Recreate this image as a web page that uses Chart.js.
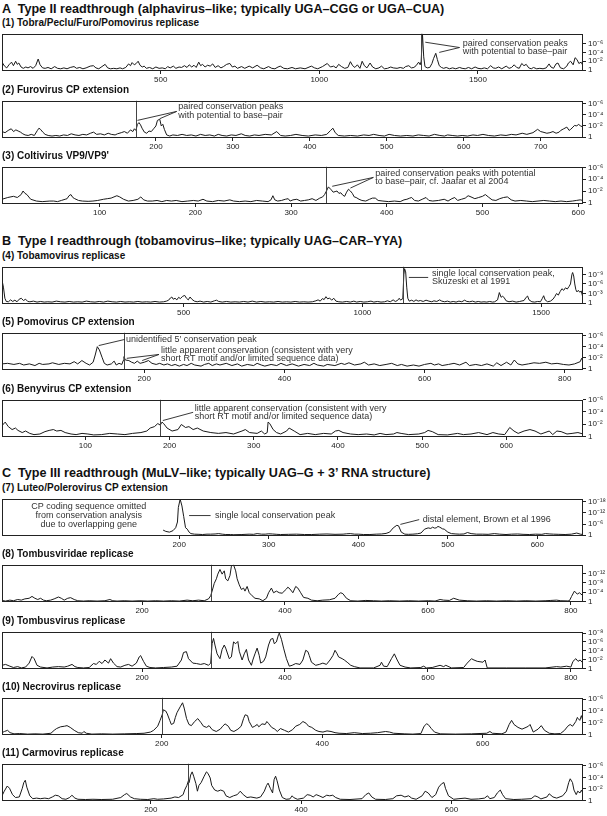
<!DOCTYPE html>
<html>
<head>
<meta charset="utf-8">
<script src="https://cdn.jsdelivr.net/npm/chart.js@4.4.0/dist/chart.umd.min.js"></script>
<style>
  body { margin: 0; background: #fff; }
  #fig { position: relative; width: 607px; height: 816px; overflow: hidden; font-family: "Liberation Sans", Arial, sans-serif; color: #111; }
  .sec { position: absolute; left: 2px; font-weight: bold; font-size: 12.6px; line-height: 16px; white-space: pre; }
  .ttl { position: absolute; left: 2px; font-weight: bold; font-size: 10px; line-height: 12px; white-space: nowrap; }
  canvas { position: absolute; left: 0; }
</style>
</head>
<body>
<div id="fig"></div>
<script>
// section headings and panel titles
const sectionTitles = [
    'A  Type II readthrough (alphavirus\u2013like; typically UGA\u2013CGG or UGA\u2013CUA)',
    'B  Type I readthrough (tobamovirus\u2013like; typically UAG\u2013CAR\u2013YYA)',
    'C  Type III readthrough (MuLV\u2013like; typically UAG\u2013G + 3\u2019 RNA structure)'
];
const panelTitles = [
    '(1) Tobra/Peclu/Furo/Pomovirus replicase',
    '(2) Furovirus CP extension',
    '(3) Coltivirus VP9/VP9\'',
    '(4) Tobamovirus replicase',
    '(5) Pomovirus CP extension',
    '(6) Benyvirus CP extension',
    '(7) Luteo/Polerovirus CP extension',
    '(8) Tombusviridae replicase',
    '(9) Tombusvirus replicase',
    '(10) Necrovirus replicase',
    '(11) Carmovirus replicase'
];

// codon position of the readthrough stop (null = none drawn)
const readthrough = [1321, 174, 336, 1113, 171, 189, null, 296, 296, 201, 250];

// x tick labels (codon position) and y ticks (-log10 p)
const posTicks = [
    [500, 1000, 1500],
    [200, 300, 400, 500, 600, 700],
    [100, 200, 300, 400, 500, 600],
    [500, 1000, 1500],
    [200, 400, 600, 800],
    [100, 200, 300, 400, 500, 600],
    [200, 300, 400, 500, 600],
    [200, 400, 600, 800],
    [200, 400, 600, 800],
    [200, 400, 600],
    [200, 400, 600]
];
const expTicks = [
    [0, 2, 4, 6], [0, 2, 4, 6], [0, 2, 4, 6], [0, 3, 6, 9], [0, 2, 4, 6], [0, 2, 4, 6],
    [0, 6, 12, 18], [0, 4, 8, 12], [0, 2, 4, 6, 8], [0, 2, 4, 6], [0, 2, 4, 6]
];

// conservation score: [codon position, -log10 p]
const score1 = [[0,1.8],[8,0.9],[15,0.5],[22,1.2],[30,1.8],[36,1.0],[43,2.0],[48,1.3],[53,1.6],[60,0.7],[67,0.4],[75,0.7],[82,0.5],[90,0.8],[98,0.4],[106,1.0],[114,2.5],[120,1.2],[128,0.5],[136,0.4],[145,0.6],[155,0.3],[166,0.8],[175,0.4],[185,0.3],[195,0.5],[205,0.3],[215,0.6],[227,0.8],[235,0.4],[245,0.6],[255,0.3],[265,0.5],[278,0.9],[288,1.0],[296,0.5],[305,0.3],[315,0.8],[325,1.3],[333,0.5],[342,0.3],[352,0.4],[362,0.3],[372,0.5],[380,0.3],[390,0.6],[399,1.4],[405,1.0],[410,1.7],[417,1.2],[423,1.5],[429,2.0],[435,1.1],[442,0.7],[448,0.9],[455,0.4],[465,0.6],[475,0.3],[485,0.7],[495,0.4],[505,0.5],[515,0.3],[522,0.8],[530,0.5],[540,0.9],[548,0.4],[558,0.7],[566,0.6],[575,1.0],[583,0.6],[590,1.2],[598,0.7],[605,1.1],[612,0.6],[620,1.8],[626,1.0],[632,1.3],[640,0.7],[648,1.1],[656,0.9],[664,1.4],[672,0.6],[681,1.0],[690,0.5],[698,0.8],[708,1.3],[718,1.5],[726,0.7],[734,0.9],[742,0.4],[755,0.8],[765,0.4],[779,0.9],[790,0.5],[804,1.1],[815,0.5],[825,0.3],[840,0.8],[850,0.4],[860,0.3],[870,0.7],[877,0.9],[888,0.4],[900,0.3],[914,0.6],[925,0.3],[940,0.5],[955,0.3],[975,0.9],[985,0.5],[995,0.3],[1010,0.8],[1025,1.5],[1035,0.7],[1045,0.9],[1053,0.5],[1061,1.3],[1070,0.8],[1080,0.4],[1090,0.6],[1098,1.9],[1105,1.0],[1112,0.6],[1120,1.2],[1128,0.4],[1135,2.0],[1142,1.0],[1150,0.5],[1160,1.6],[1168,0.7],[1178,0.3],[1188,0.5],[1196,0.9],[1205,0.3],[1215,0.4],[1225,0.7],[1233,0.5],[1245,0.4],[1255,0.6],[1265,0.4],[1272,0.8],[1282,1.0],[1290,0.5],[1298,0.6],[1305,1.0],[1313,1.8],[1318,1.2],[1321,2.0],[1325,8.2],[1329,3.0],[1333,0.8],[1340,0.5],[1348,0.6],[1355,1.5],[1360,2.6],[1367,3.8],[1372,2.4],[1378,1.0],[1385,0.6],[1392,0.4],[1400,0.6],[1410,0.3],[1420,0.5],[1430,0.3],[1442,0.6],[1450,0.4],[1460,0.3],[1470,0.6],[1480,0.3],[1491,0.7],[1500,0.4],[1510,0.3],[1520,0.5],[1530,0.3],[1540,1.0],[1548,0.5],[1556,0.4],[1565,0.7],[1575,0.3],[1589,0.9],[1598,0.4],[1606,0.6],[1614,1.2],[1622,0.6],[1630,0.4],[1638,1.5],[1645,1.0],[1652,1.3],[1660,0.5],[1668,0.3],[1675,0.6],[1685,0.3],[1695,0.4],[1705,0.3],[1715,0.5],[1724,1.4],[1730,0.7],[1738,0.4],[1746,1.4],[1752,1.6],[1760,0.5],[1770,0.3],[1780,0.9],[1785,1.6],[1792,2.0],[1800,1.2],[1806,2.8],[1812,2.4],[1818,1.5],[1825,1.8],[1831,1.0]];

const score2 = [[0,1.0],[4,0.8],[8,1.2],[12,1.5],[15,1.0],[18,1.3],[21,1.1],[24,0.9],[27,0.6],[30,0.4],[34,0.3],[38,0.5],[42,0.3],[46,1.2],[48,1.6],[50,1.4],[53,0.9],[56,0.5],[60,0.3],[65,0.2],[70,0.3],[75,0.2],[80,0.4],[85,0.3],[90,0.6],[95,0.4],[100,0.3],[105,0.5],[110,0.4],[115,0.7],[119,0.9],[123,0.5],[128,0.6],[133,0.4],[138,0.7],[142,0.5],[147,0.4],[150,0.6],[155,0.8],[159,1.0],[163,0.7],[167,1.3],[170,1.0],[172,1.5],[174,1.2],[176,2.3],[178,2.6],[180,2.2],[182,1.6],[185,0.9],[188,0.7],[191,1.1],[194,1.0],[197,1.5],[200,2.0],[202,3.0],[205,3.2],[207,2.0],[209,2.3],[211,1.4],[214,0.4],[218,0.2],[222,0.4],[228,0.3],[234,0.5],[240,0.3],[246,0.4],[252,0.2],[258,0.5],[264,0.3],[270,0.4],[276,0.2],[281,0.5],[286,0.3],[292,0.2],[298,0.4],[304,0.3],[311,0.6],[316,0.3],[322,0.2],[328,0.4],[334,0.3],[342,0.5],[350,0.4],[357,1.0],[362,0.3],[368,0.2],[375,0.3],[382,0.5],[390,0.3],[398,0.2],[407,0.4],[415,0.3],[422,0.5],[427,1.2],[430,1.6],[433,0.8],[437,0.3],[445,0.2],[453,0.3],[462,0.2],[470,0.4],[477,0.3],[483,0.5],[490,0.3],[497,0.2],[503,0.5],[510,0.3],[518,0.2],[526,0.3],[534,0.2],[541,0.4],[548,0.3],[555,0.2],[562,0.5],[569,0.3],[575,0.2],[579,0.4],[585,0.3],[592,0.2],[598,0.3],[605,0.2],[612,0.4],[618,0.3],[625,0.5],[632,0.3],[640,0.2],[648,0.4],[655,0.3],[662,0.5],[668,0.4],[676,0.7],[682,0.5],[690,0.8],[696,1.4],[700,1.0],[703,0.9],[708,0.7],[712,0.8],[716,1.0],[720,0.7],[724,0.9],[726,1.2],[730,1.5],[734,1.8],[737,1.2],[739,1.4],[742,1.8],[744,2.1],[747,2.0],[749,2.3],[752,2.0],[755,1.8]];

const score3 = [[-2,0.6],[4,0.9],[10,1.1],[14,0.9],[18,1.4],[20,2.0],[22,1.6],[24,1.4],[28,0.6],[34,0.3],[40,0.2],[44,0.25],[48,0.3],[52,0.3],[56,0.2],[60,0.4],[64,0.6],[66,0.7],[68,1.2],[70,1.4],[72,0.9],[74,0.7],[78,0.4],[82,0.3],[88,0.25],[93,0.3],[98,0.4],[104,0.6],[108,0.7],[112,0.8],[115,1.0],[118,1.2],[121,1.0],[125,0.6],[130,0.3],[135,0.4],[140,0.6],[143,1.0],[146,0.5],[150,0.3],[155,0.3],[160,0.4],[165,0.2],[170,0.4],[175,0.3],[180,0.4],[186,0.2],[192,0.3],[198,0.4],[203,0.3],[208,0.6],[212,0.3],[218,0.2],[224,0.4],[230,0.3],[236,0.5],[240,0.3],[246,0.2],[252,0.3],[258,0.2],[264,0.4],[270,0.3],[276,0.2],[279,0.5],[281,1.2],[283,0.5],[286,0.3],[290,0.4],[294,0.6],[297,0.7],[299,0.3],[302,0.5],[306,0.6],[310,0.3],[314,0.4],[318,0.5],[322,0.7],[326,0.4],[330,0.8],[333,1.0],[335,1.4],[337,2.0],[339,2.7],[342,2.2],[344,1.8],[346,1.9],[348,2.0],[350,1.6],[352,1.7],[354,1.3],[356,1.1],[358,1.8],[360,2.3],[362,2.0],[364,1.6],[366,1.0],[368,0.9],[371,0.6],[374,0.4],[378,0.3],[382,0.6],[385,0.8],[388,0.8],[391,0.4],[396,0.3],[402,0.2],[408,0.3],[414,0.2],[418,0.5],[421,0.6],[424,0.8],[426,0.9],[429,0.4],[433,0.3],[437,0.6],[441,0.9],[444,0.4],[448,0.3],[454,0.4],[460,0.6],[464,0.3],[468,0.7],[471,0.9],[474,0.4],[478,0.6],[482,0.8],[485,1.2],[488,1.0],[492,0.7],[496,0.9],[500,1.1],[503,1.4],[506,1.0],[510,0.5],[514,0.4],[518,0.7],[522,0.9],[526,1.0],[530,0.5],[534,0.3],[540,0.4],[546,0.3],[552,0.2],[558,0.3],[564,0.4],[570,0.3],[576,0.2],[582,0.3],[588,0.2],[594,0.3],[598,0.4],[602,0.5],[605,0.4]];

const score4 = [[-8,7.2],[-4,5.0],[0,1.5],[4,0.5],[10,0.4],[16,1.0],[22,0.5],[28,0.9],[34,0.4],[40,1.2],[46,1.5],[52,0.8],[58,1.2],[64,0.5],[70,0.4],[80,0.6],[90,0.3],[100,0.5],[110,0.3],[120,0.4],[132,0.3],[144,0.6],[156,0.4],[168,0.3],[180,0.5],[192,0.3],[204,0.4],[216,0.3],[228,0.6],[240,0.4],[252,0.3],[264,0.5],[276,0.3],[288,0.6],[300,0.4],[312,0.3],[324,0.5],[336,0.3],[348,0.4],[360,0.3],[372,0.5],[384,0.3],[396,0.4],[408,0.3],[420,0.5],[432,0.3],[444,0.4],[452,0.6],[458,0.9],[463,1.6],[467,1.9],[471,1.2],[476,1.5],[481,1.0],[486,1.8],[491,1.4],[497,2.1],[503,2.4],[508,1.5],[513,1.0],[518,1.9],[523,1.2],[530,0.6],[538,0.4],[546,0.6],[556,0.3],[566,0.5],[576,0.3],[586,0.7],[592,0.9],[598,0.5],[608,0.3],[620,0.5],[632,0.3],[644,0.4],[656,0.3],[668,0.5],[680,0.3],[692,0.6],[704,0.3],[716,0.5],[728,0.3],[740,0.4],[752,0.3],[764,0.5],[776,0.3],[788,0.4],[800,0.3],[812,0.5],[824,0.3],[836,0.4],[848,0.3],[860,0.4],[870,0.7],[876,1.0],[882,0.6],[888,1.4],[893,1.1],[898,2.0],[903,1.3],[908,1.6],[914,0.9],[920,1.5],[926,0.6],[934,0.4],[944,0.3],[956,0.5],[966,0.3],[976,0.6],[984,0.3],[994,0.5],[1004,0.3],[1014,0.4],[1024,0.6],[1032,0.3],[1042,0.5],[1052,0.3],[1062,0.4],[1070,0.7],[1078,0.4],[1086,1.0],[1092,0.5],[1098,0.8],[1103,1.5],[1107,0.9],[1111,1.3],[1113,1.6],[1116,9.0],[1118,10.8],[1121,9.8],[1124,5.0],[1127,1.5],[1131,0.6],[1138,0.9],[1144,0.5],[1150,1.0],[1156,0.6],[1162,0.8],[1170,0.5],[1178,0.9],[1186,0.6],[1194,0.4],[1200,0.7],[1208,0.5],[1216,1.0],[1222,0.6],[1230,0.4],[1238,0.6],[1246,0.3],[1254,0.5],[1262,0.3],[1270,0.6],[1278,0.4],[1286,0.9],[1292,0.5],[1300,0.4],[1308,0.6],[1316,0.3],[1324,0.5],[1332,0.3],[1340,0.4],[1348,0.3],[1356,0.5],[1364,0.3],[1370,0.4],[1378,1.0],[1383,3.3],[1388,1.8],[1392,2.2],[1397,1.6],[1402,0.7],[1410,0.4],[1420,0.6],[1430,0.3],[1440,0.5],[1452,0.8],[1458,1.8],[1462,2.2],[1466,1.0],[1474,0.4],[1482,0.3],[1490,0.5],[1498,0.4],[1503,1.4],[1507,2.3],[1511,1.0],[1518,0.4],[1526,0.6],[1533,1.2],[1538,2.0],[1543,3.0],[1548,2.5],[1553,3.6],[1558,4.5],[1563,4.0],[1568,4.8],[1573,4.4],[1578,5.2],[1582,6.0],[1586,9.0],[1588,9.6],[1591,8.5],[1594,6.0],[1597,4.2],[1600,3.5],[1604,4.0],[1608,3.4],[1612,3.8],[1615,2.5],[1617,1.2]];

const score5 = [[-3,0.9],[5,1.0],[14,0.8],[22,1.0],[28,0.7],[36,0.9],[44,0.6],[50,1.0],[55,0.8],[64,0.9],[69,1.1],[78,0.8],[86,1.0],[94,0.9],[100,1.3],[105,0.9],[111,1.5],[117,1.0],[122,0.7],[127,1.2],[130,2.5],[133,4.0],[136,3.4],[140,2.0],[143,1.0],[147,0.7],[153,0.9],[157,1.4],[160,0.7],[164,1.0],[168,0.8],[170,1.5],[171,2.2],[173,1.6],[178,1.5],[182,1.2],[186,1.0],[190,1.4],[194,1.0],[200,1.2],[206,1.5],[211,1.0],[217,0.8],[222,1.0],[228,0.7],[233,0.9],[239,0.6],[244,0.8],[250,0.5],[256,0.8],[261,0.6],[267,1.0],[272,0.7],[281,0.5],[286,0.8],[292,1.0],[297,0.6],[303,0.9],[308,0.7],[317,1.0],[325,0.6],[333,0.9],[339,0.5],[347,0.8],[356,0.6],[361,1.0],[367,0.7],[372,0.5],[381,0.8],[389,0.6],[395,1.0],[403,0.6],[411,0.9],[420,0.5],[428,0.8],[436,0.6],[442,1.0],[447,0.7],[456,0.5],[461,0.8],[472,0.6],[481,1.0],[486,0.8],[492,1.1],[500,0.7],[509,0.9],[514,1.2],[520,0.7],[528,0.9],[536,0.6],[545,0.8],[553,1.0],[561,0.6],[567,0.8],[575,0.5],[584,0.7],[592,0.5],[600,0.8],[609,1.0],[614,0.7],[620,0.9],[625,0.6],[634,0.8],[642,1.0],[650,0.7],[659,1.2],[664,0.6],[673,0.8],[681,0.6],[689,0.9],[698,0.5],[703,1.1],[709,0.6],[717,1.2],[723,0.7],[728,1.6],[733,0.9],[739,0.7],[748,0.9],[756,1.1],[764,1.0],[773,1.2],[781,0.9],[789,1.0],[798,0.8],[806,0.7],[814,0.9],[822,1.3],[824,1.9],[826,1.4]];

const score6 = [[1.6,1.85],[4.8,2.34],[8.5,1.6],[13,1.12],[17,1.37],[20,0.98],[25,0.63],[29,0.88],[34,0.49],[39,0.29],[46,0.39],[52,0.78],[57,0.98],[62,1.12],[66,0.88],[71,0.98],[76,0.63],[83,0.39],[89,0.29],[96,0.49],[103,0.39],[110,0.24],[119,0.29],[129,0.49],[138,0.39],[147,0.29],[156,0.49],[166,0.63],[173,0.88],[177,1.37],[182,1.6],[186,2.1],[189,1.85],[191,2.34],[193,2.1],[197,1.37],[203,0.88],[210,1.12],[214,1.95],[219,1.46],[223,1.6],[228,1.12],[233,1.37],[240,0.88],[249,0.63],[258,0.49],[267,0.63],[276,0.39],[286,0.88],[290,1.12],[295,0.63],[304,0.49],[309,0.88],[313,0.39],[316,0.63],[317,2.34],[319,2.1],[323,1.12],[327,0.63],[332,0.39],[339,0.88],[342,1.37],[348,0.88],[355,0.29],[364,0.49],[373,0.29],[383,0.49],[392,0.39],[397,0.88],[401,0.98],[406,0.63],[415,0.39],[424,0.29],[434,0.39],[443,0.24],[450,0.49],[457,0.29],[466,0.39],[470,0.63],[475,0.49],[484,0.29],[496,0.39],[503,0.63],[507,0.98],[512,0.78],[519,0.29],[530,0.24],[542,0.49],[549,0.29],[558,0.39],[567,0.63],[577,0.29],[584,0.63],[591,0.39],[598,0.29],[604,1.46],[609,0.88],[614,0.49],[621,0.88],[628,1.12],[634,0.88],[641,0.39],[651,0.88],[655,0.29],[660,0.88],[665,0.78],[672,0.39],[678,0.49],[685,0.63],[691,0.39]];

const score7 = [[182,2.7],[185,2.0],[189,1.6],[193,2.4],[196,4.0],[198,7.1],[199,15],[201,19.5],[203,15.8],[205,10],[207,4],[209,3.2],[211,1.6],[213,0.8],[217,0.5],[222,0.4],[226,0.3],[231,0.5],[235,0.5],[240,0.6],[244,0.8],[248,0.5],[252,0.3],[257,0.3],[261,0.2],[270,0.3],[278,0.5],[283,0.4],[287,0.8],[292,0.5],[296,0.5],[300,0.7],[304,0.6],[309,0.4],[313,0.3],[322,0.4],[331,0.5],[340,0.3],[348,0.3],[357,0.5],[365,0.6],[374,0.4],[383,0.5],[387,0.7],[391,0.8],[396,0.5],[400,0.5],[406,0.3],[413,0.3],[420,0.5],[426,0.6],[431,0.9],[435,1.6],[439,3.9],[443,5.3],[445,5.0],[448,1.6],[452,0.5],[456,0.4],[461,0.5],[466,0.7],[470,1.1],[474,3.2],[478,3.9],[481,3.6],[483,4.3],[485,3.8],[487,3.9],[489,4.7],[491,4.3],[494,3.4],[496,3.2],[500,1.6],[504,0.8],[509,0.6],[513,0.5],[518,0.6],[522,1.4],[526,0.8],[532,0.5],[539,0.5],[545,0.4],[552,0.8],[558,0.5],[565,0.3],[571,0.5],[578,0.6],[584,0.4],[591,0.3],[598,0.5],[605,0.4],[609,0.8],[614,0.6],[618,0.5],[624,0.4],[631,0.3],[638,0.5],[644,1.1],[648,0.5],[651,0.3]];

const score8 = [[4,0.4],[9,0.13],[15,0.53],[20,0.27],[26,0.8],[31,0.53],[36,1.07],[42,1.33],[46,2.13],[50,1.33],[54,0.8],[58,1.33],[62,0.53],[66,0.27],[72,0.53],[77,1.07],[83,1.87],[87,1.33],[91,0.53],[96,1.33],[100,1.6],[105,0.8],[110,0.27],[118,0.13],[126,0.27],[137,0.13],[148,0.27],[155,0.8],[159,0.27],[165,0.13],[175,0.27],[186,0.13],[197,0.27],[208,0.13],[219,0.27],[230,0.13],[241,0.27],[252,0.13],[263,0.53],[271,0.27],[279,0.53],[287,0.27],[293,1.07],[296,2.4],[298,4.4],[301,7.7],[304,9.7],[306,11.7],[309,13.7],[312,11.7],[315,13.1],[317,9.7],[320,8.8],[323,11.1],[325,15.1],[328,15.7],[331,13.1],[333,9.7],[336,7.1],[339,5.1],[342,5.7],[344,4.4],[347,6.4],[350,3.7],[354,2.4],[358,1.33],[364,1.07],[369,0.27],[374,1.33],[377,3.7],[381,5.7],[384,3.7],[388,4.4],[392,3.7],[396,3.5],[402,5.3],[404,6.1],[407,5.3],[411,3.7],[415,6.4],[418,5.7],[422,3.7],[426,1.7],[432,1.33],[437,0.53],[445,0.27],[453,0.53],[462,0.67],[470,1.33],[475,3.07],[478,3.7],[481,3.3],[486,1.33],[492,0.27],[502,0.13],[513,0.4],[524,0.27],[535,0.13],[546,0.27],[560,0.13],[573,0.27],[587,0.13],[601,0.27],[610,0.13],[617,0.8],[622,0.53],[630,0.4],[636,1.33],[644,0.53],[655,0.27],[668,0.13],[682,0.27],[696,0.13],[710,0.27],[724,0.13],[737,0.27],[751,0.13],[764,0.27],[772,0.4],[780,0.53],[786,0.27],[795,0.2],[798,0.27],[801,2.13],[805,4.4],[809,3.1],[812,3.7],[817,2.4]];

const score9 = [[4,0.7],[9,0.9],[15,0.5],[20,0.2],[26,0.4],[31,0.1],[37,0.3],[42,1.2],[46,2.7],[49,2.2],[53,0.7],[58,0.3],[67,0.1],[75,0.3],[83,0.4],[91,0.3],[96,0.5],[102,0.9],[106,0.4],[110,0.2],[118,0.1],[126,0.2],[132,1.1],[136,0.9],[140,1.6],[144,1.1],[148,1.9],[153,1.2],[156,2.2],[160,1.2],[165,0.4],[170,0.3],[176,0.7],[181,0.9],[186,0.5],[192,1.2],[196,2.6],[198,2.9],[202,1.6],[206,0.5],[211,0.2],[219,0.1],[230,0.2],[241,0.3],[249,0.5],[255,1.9],[258,3.6],[262,3.8],[265,2.2],[271,1.2],[276,1.1],[282,0.9],[287,1.1],[293,0.7],[296,1.2],[298,5.6],[300,6.8],[302,5.3],[305,3.3],[309,2.2],[312,4.3],[315,5.3],[317,4.6],[322,2.2],[325,2.6],[328,6.0],[331,5.6],[334,6.1],[336,3.9],[340,1.9],[343,3.3],[346,4.3],[349,1.9],[353,0.7],[355,1.9],[358,3.3],[361,4.6],[364,2.9],[366,1.2],[370,1.6],[373,2.6],[377,5.3],[380,6.6],[383,6.8],[385,5.6],[388,6.0],[391,7.7],[392,8.0],[395,6.6],[398,4.6],[402,2.2],[406,0.5],[410,0.7],[415,1.1],[421,0.9],[425,1.9],[429,4.1],[432,3.8],[434,2.9],[437,1.4],[443,0.7],[448,0.9],[453,1.2],[458,0.9],[463,1.9],[467,2.9],[470,4.1],[473,3.3],[475,2.6],[480,2.2],[483,1.9],[487,1.4],[492,0.7],[497,0.4],[505,0.1],[524,0.1],[533,0.7],[535,1.4],[538,0.5],[543,0.4],[549,2.2],[553,3.3],[557,1.9],[561,0.7],[568,0.3],[576,0.1],[590,0.2],[594,0.5],[598,0.1],[606,0.2],[617,0.7],[622,0.4],[625,0.7],[633,0.1],[650,0.2],[655,1.2],[661,2.2],[663,2.0],[669,1.6],[677,1.4],[680,1.9],[683,0.1],[710,0.1],[737,0.1],[764,0.1],[780,0.4],[786,0.3],[794,0.5],[800,0.3],[803,1.6],[807,2.2],[810,1.6],[813,1.9],[817,1.2]];

const score10 = [[1,0.3],[4,0.5],[8,0.7],[11,0.3],[16,0.1],[23,0.15],[33,0.05],[42,0.1],[52,0.05],[62,0.2],[66,0.7],[69,1.0],[74,1.3],[79,1.4],[82,1.5],[86,1.2],[91,0.7],[96,0.3],[101,0.2],[103,0.5],[106,0.2],[113,0.05],[125,0.1],[139,0.05],[154,0.1],[169,0.15],[178,0.2],[186,0.4],[190,0.7],[195,1.4],[198,2.4],[201,3.5],[202,4.2],[205,4.0],[207,3.5],[210,2.4],[212,1.7],[215,1.9],[217,2.9],[219,3.7],[223,4.7],[226,5.4],[228,4.5],[231,2.7],[234,1.7],[237,1.5],[241,2.2],[245,2.7],[249,2.0],[252,1.4],[256,1.2],[259,1.5],[263,0.8],[268,0.5],[273,0.9],[276,1.4],[279,1.8],[283,1.4],[286,0.7],[290,0.5],[295,0.9],[299,1.4],[302,2.7],[304,3.35],[307,3.2],[309,2.2],[313,1.2],[316,1.4],[319,1.7],[321,1.3],[325,1.8],[329,1.7],[331,2.2],[333,1.9],[337,1.2],[341,0.9],[344,0.5],[348,1.0],[353,0.7],[358,0.4],[363,0.8],[367,1.4],[372,1.7],[376,2.2],[380,1.9],[383,1.4],[387,1.2],[392,0.7],[396,0.5],[401,0.4],[406,0.6],[411,0.5],[416,0.3],[421,0.2],[430,0.15],[440,0.3],[450,0.15],[460,0.2],[469,0.3],[479,0.5],[484,0.4],[489,0.2],[503,0.1],[513,0.05],[523,0.15],[527,1.4],[530,1.8],[532,1.7],[536,1.0],[540,0.4],[547,0.1],[566,0.05],[586,0.1],[605,0.2],[609,0.5],[612,0.2],[624,0.1],[629,0.4],[633,1.7],[636,2.4],[639,1.7],[644,1.2],[649,0.9],[654,1.2],[657,1.4],[659,1.7],[663,0.4],[669,0.9],[673,1.5],[677,0.7],[683,0.2],[690,0.1],[697,0.15],[702,0.7],[706,1.4],[709,1.7],[712,1.4],[716,2.2],[718,2.9],[719,2.7],[721,2.4],[723,3.2],[725,2.3]];

const score11 = [[2,0.8],[5,1.6],[9,2.5],[12,2.1],[16,1.0],[20,0.5],[25,0.6],[29,2.1],[31,3.1],[33,3.5],[35,2.3],[39,0.8],[43,0.3],[48,0.4],[53,0.3],[59,0.4],[64,0.3],[69,0.6],[73,0.9],[77,0.8],[82,0.3],[87,0.2],[92,0.5],[95,0.9],[99,0.4],[103,0.2],[113,0.16],[123,0.2],[134,0.16],[149,0.2],[160,0.5],[165,1.0],[168,1.2],[173,0.6],[178,0.3],[186,0.2],[196,0.16],[204,0.3],[209,0.2],[217,0.26],[227,0.4],[232,0.6],[237,0.5],[243,1.0],[245,1.8],[248,2.6],[250,3.4],[251,3.1],[253,4.4],[255,4.95],[257,4.2],[260,2.9],[262,1.6],[264,2.6],[267,3.1],[271,4.2],[274,4.95],[276,4.7],[279,3.9],[281,2.6],[285,1.8],[289,1.6],[293,1.8],[297,1.6],[300,0.8],[305,0.5],[310,0.8],[315,1.0],[319,1.6],[323,1.0],[328,0.5],[333,0.6],[341,0.4],[346,0.6],[351,1.6],[354,2.6],[356,3.0],[359,2.1],[362,1.3],[364,3.6],[366,4.2],[368,3.4],[371,1.8],[375,0.5],[380,0.2],[385,0.26],[388,0.8],[390,0.5],[395,0.2],[403,0.4],[408,1.0],[412,0.9],[416,0.6],[420,1.0],[424,0.8],[429,0.5],[434,0.9],[438,0.8],[442,0.9],[446,0.5],[452,0.2],[465,0.16],[481,0.3],[486,1.0],[490,1.3],[494,0.6],[499,0.2],[512,0.16],[522,0.3],[527,0.8],[533,0.9],[538,0.6],[543,0.8],[547,0.4],[553,0.2],[561,0.8],[565,1.6],[569,1.3],[574,0.5],[579,1.0],[583,2.3],[587,2.9],[590,3.1],[592,2.1],[596,0.8],[603,0.2],[610,0.3],[618,0.4],[626,0.2],[636,0.26],[644,0.4],[648,0.8],[651,0.3],[657,0.5],[661,1.3],[665,1.8],[668,1.0],[672,0.3],[683,0.16],[693,0.2],[706,0.3],[711,0.8],[715,0.6],[719,0.26],[727,0.6],[730,1.15],[735,0.6],[740,0.4],[748,0.8],[753,1.6],[756,3.1],[758,3.75],[761,3.1],[763,1.8],[766,1.0],[768,1.6],[771,1.3],[773,1.8],[775,1.15]];

const scores = [score1, score2, score3, score4, score5, score6, score7, score8, score9, score10, score11];

// layout: box tops and axis limits per panel
const boxTop = [29, 96, 162, 262, 328, 395, 494, 560, 627, 693, 759];
const sectionTop = [1, 233, 465];
const xLim = [[0,1831],[0,755],[-2,605],[-8,1617],[-3,826],[1,691],[2,651],[4,817],[4,817],[1,725],[2,775]];
const yLim = [[-0.2,8.2],[-0.15,6.5],[-0.2,6.1],[-0.3,11.4],[-0.2,6.5],[-0.1,6.0],[-0.5,19.7],[-0.27,15.7],[-0.14,8.3],[-0.1,6.25],[-0.1,6.35]];

// annotation text and leader lines, in data coordinates
const notes = [
    { text: [{ s: 'paired conservation peaks', x: 1452, y: 6.1 }, { s: 'with potential to base\u2013pair', x: 1452, y: 4.1 }],
      lines: [[1334, 6.3, 1442, 5.1], [1378, 4.0, 1442, 5.1]] },
    { text: [{ s: 'paired conservation peaks', x: 229, y: 5.4 }, { s: 'with potential to base\u2013pair', x: 229, y: 3.9 }],
      lines: [[176, 3.0, 227, 4.6], [205, 3.3, 227, 4.6]] },
    { text: [{ s: 'paired conservation peaks with potential', x: 388, y: 5.0 }, { s: 'to base\u2013pair, cf. Jaafar et al 2004', x: 388, y: 3.6 }],
      lines: [[343, 2.8, 386, 4.3], [362, 2.5, 386, 4.3]] },
    { text: [{ s: 'single local conservation peak,', x: 1195, y: 9.4 }, { s: 'Skuzeski et al 1991', x: 1195, y: 6.7 }],
      lines: [[1130, 8.05, 1184, 8.05]] },
    { text: [{ s: 'unidentified 5\u2032 conservation peak', x: 174, y: 5.3 },
             { s: 'little apparent conservation (consistent with very', x: 224, y: 3.3 },
             { s: 'short RT motif and/or limited sequence data)', x: 224, y: 1.9 }],
      lines: [[135, 4.2, 172, 5.3], [175, 1.9, 221, 2.6], [197, 1.5, 221, 2.6]] },
    { text: [{ s: 'little apparent conservation (consistent with very', x: 230, y: 4.6 },
             { s: 'short RT motif and/or limited sequence data)', x: 230, y: 3.3 }],
      lines: [[192, 2.6, 228, 3.95]] },
    { text: [{ s: 'CP coding sequence omitted', x: 99, y: 15.4, a: 'center' },
             { s: 'from conservation analysis', x: 99, y: 10.6, a: 'center' },
             { s: 'due to overlapping gene', x: 99, y: 5.8, a: 'center' },
             { s: 'single local conservation peak', x: 240, y: 10.6 },
             { s: 'distal element, Brown et al 1996', x: 472, y: 8.6 }],
      lines: [[211, 10.6, 235, 10.6], [447, 5.8, 468, 8.4]] },
    null, null, null, null
];

const supDigits = { '0': '\u2070', '1': '\u00b9', '2': '\u00b2', '3': '\u00b3', '4': '\u2074', '5': '\u2075', '6': '\u2076', '7': '\u2077', '8': '\u2078', '9': '\u2079' };
function expLabel(v) {
    if (v === 0) return '1';
    return '10\u207b' + String(v).split('').map(c => supDigits[c]).join('');
}

const FONT = '"Liberation Sans", Arial, sans-serif';

// frame, readthrough marker and annotations
const panelDecor = {
    id: 'panelDecor',
    afterDatasetsDraw(chart, args, opts) {
        const { ctx, chartArea: a } = chart;
        const xs = chart.scales.x, ys = chart.scales.y;
        ctx.save();
        if (opts.rt != null) {
            const px = Math.round(xs.getPixelForValue(opts.rt)) + 0.5;
            ctx.strokeStyle = '#444';
            ctx.lineWidth = 1;
            ctx.beginPath();
            ctx.moveTo(px, a.top);
            ctx.lineTo(px, a.bottom);
            ctx.stroke();
        }
        if (opts.note) {
            ctx.strokeStyle = '#222';
            ctx.lineWidth = 0.9;
            opts.note.lines.forEach(l => {
                ctx.beginPath();
                ctx.moveTo(xs.getPixelForValue(l[0]), ys.getPixelForValue(l[1]));
                ctx.lineTo(xs.getPixelForValue(l[2]), ys.getPixelForValue(l[3]));
                ctx.stroke();
            });
            ctx.fillStyle = '#333';
            ctx.font = '9px ' + FONT;
            ctx.textBaseline = 'middle';
            opts.note.text.forEach(t => {
                ctx.textAlign = t.a || 'left';
                ctx.fillText(t.s, xs.getPixelForValue(t.x), ys.getPixelForValue(t.y));
            });
        }
        ctx.strokeStyle = '#222';
        ctx.lineWidth = 1;
        ctx.strokeRect(Math.round(a.left) + 0.5, Math.round(a.top) + 0.5,
            Math.round(a.right - a.left) - 1, Math.round(a.bottom - a.top) - 1);
        ctx.restore();
    }
};

const fig = document.getElementById('fig');

sectionTitles.forEach((t, i) => {
    const d = document.createElement('div');
    d.className = 'sec';
    d.style.top = sectionTop[i] + 'px';
    d.textContent = t;
    fig.appendChild(d);
});

scores.forEach((data, i) => {
    const title = document.createElement('div');
    title.className = 'ttl';
    title.style.top = (boxTop[i] - 12) + 'px';
    title.textContent = panelTitles[i];
    fig.appendChild(title);

    const cv = document.createElement('canvas');
    cv.width = 607;
    cv.height = 61;
    cv.style.top = (boxTop[i] - 2) + 'px';
    fig.appendChild(cv);

    const xt = posTicks[i], yt = expTicks[i];
    new Chart(cv.getContext('2d'), {
        type: 'line',
        data: {
            datasets: [{
                data: data.map(d => ({ x: d[0], y: d[1] })),
                borderColor: '#1a1a1a',
                borderWidth: 1,
                pointRadius: 0,
                tension: 0,
                fill: false
            }]
        },
        options: {
            responsive: false,
            animation: false,
            devicePixelRatio: 1,
            layout: { padding: { left: 2, top: 2, right: 0, bottom: 0 } },
            plugins: {
                legend: { display: false },
                tooltip: { enabled: false },
                panelDecor: { rt: readthrough[i], note: notes[i] }
            },
            scales: {
                x: {
                    type: 'linear',
                    min: xLim[i][0],
                    max: xLim[i][1],
                    afterBuildTicks: s => { s.ticks = xt.map(v => ({ value: v })); },
                    afterFit: s => { s.height = 17; },
                    ticks: { autoSkip: false, maxRotation: 0, padding: 1, color: '#222', font: { size: 8, family: FONT }, callback: v => String(v) },
                    grid: { drawOnChartArea: false, tickLength: 3, color: '#222' },
                    border: { display: false }
                },
                y: {
                    position: 'right',
                    min: yLim[i][0],
                    max: yLim[i][1],
                    afterBuildTicks: s => { s.ticks = yt.map(v => ({ value: v })); },
                    afterFit: s => { s.width = 24; },
                    ticks: { autoSkip: false, padding: 2, color: '#222', font: { size: 8, family: FONT }, callback: v => expLabel(v) },
                    grid: { drawOnChartArea: false, tickLength: 3, color: '#222' },
                    border: { display: false }
                }
            }
        },
        plugins: [panelDecor]
    });
});
</script>
</body>
</html>
